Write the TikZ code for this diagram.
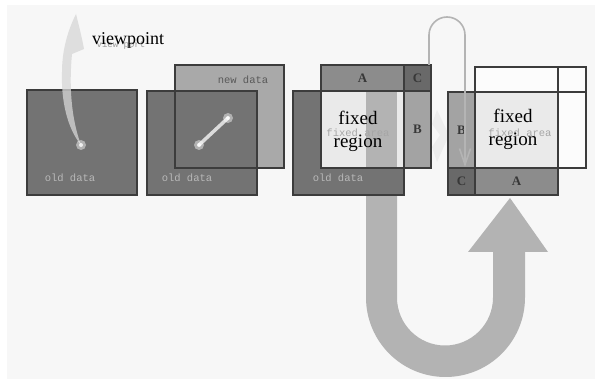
\documentclass[tikz,border=0pt]{standalone}
\usepackage{fontspec}
\setmainfont{Liberation Serif}
\setmonofont{Liberation Mono}
\usetikzlibrary{arrows.meta}
\definecolor{panel}{HTML}{F7F7F7}
\definecolor{olddark}{HTML}{737373}
\definecolor{newlight}{HTML}{A9A9A9}
\definecolor{edge}{HTML}{3C3C3C}
\definecolor{stripA}{HTML}{8C8C8C}
\definecolor{stripB}{HTML}{A3A3A3}
\definecolor{stripC}{HTML}{696969}
\definecolor{fixedc}{HTML}{EAEAEA}
\definecolor{ugray}{HTML}{B3B3B3}
\definecolor{loopc}{HTML}{B4B4B4}
\tikzset{
  blk/.style={rectangle, inner sep=0pt, outer sep=0pt, anchor=north west},
  olddatabox/.style={blk, fill=olddark},
  newdatabox/.style={blk, fill=newlight},
  outl/.style={draw=edge, line width=1.3pt},
  monolab/.style={font=\ttfamily\fontsize{10.5}{12}\selectfont, inner sep=0pt},
  oldlab/.style={monolab, text=black!28},
  letterlab/.style={font=\bfseries\fontsize{13}{14}\selectfont, text=black!78, inner sep=0pt},
  biglab/.style={font=\fontsize{19}{23}\selectfont, align=center, inner sep=0pt},
  faintlab/.style={monolab, text=black!35},
}
\begin{document}
\begin{tikzpicture}[x=1pt,y=-1pt]
\useasboundingbox (0,0) rectangle (595,379);
\fill[white] (0,0) rectangle (595,379);
\fill[panel] (7,5) rectangle (595,379);

% big U arrow (behind the boxes)
\fill[ugray] (366,100) -- (366,297.5) arc[start angle=180, end angle=0, radius=79.5]
  -- (525,252) -- (548,252) -- (510,198) -- (468,252) -- (493,252) -- (493,297.5)
  arc[start angle=0, end angle=180, radius=48] -- (397,100) -- cycle;

% faint arrow between groups 3 and 4
\fill[black!7] (432,124) -- (437,110) -- (449,135) -- (437,162) -- (432,147) -- (440,135) -- cycle;

% ---------- group 1 ----------
\node[olddatabox, minimum width=110pt, minimum height=105pt, outl] (old1) at (27,90) {};
\draw[edge, line width=2pt] (old1.south west) -- (old1.south east);
\node[oldlab] (old1lab) at (70,178) {old data};

% ---------- group 2 ----------
\node[newdatabox, minimum width=109pt, minimum height=103pt] (new2) at (175,65) {};
\node[olddatabox, minimum width=110pt, minimum height=104pt, outl] (old2) at (147,91) {};
\node[blk, minimum width=109pt, minimum height=103pt, outl] (new2o) at (175,65) {};
\draw[edge, line width=2pt] (old2.south west) -- (old2.south east);
\node[monolab, text=black!65] (new2lab) at (243,80) {new data};
\node[oldlab] (old2lab) at (187,178) {old data};
\coordinate (m2a) at (199,145);
\coordinate (m2b) at (228,118);
\draw[white, opacity=0.75, line width=3.5pt, line cap=round] (m2a) -- (m2b);
\fill[white, opacity=0.45] (m2a) circle (5);
\fill[white, opacity=0.45] (m2b) circle (5);
\fill[white, opacity=0.8] (m2a) circle (2);
\fill[white, opacity=0.8] (m2b) circle (2);

% ---------- group 3 ----------
\node[olddatabox, minimum width=111pt, minimum height=104pt] (old3) at (293,91) {};
\node[blk, fill=stripA, minimum width=83pt, minimum height=26pt] (A3) at (321,65) {};
\node[blk, fill=stripC, minimum width=27pt, minimum height=26pt] (C3) at (404,65) {};
\node[blk, fill=stripB, minimum width=27pt, minimum height=77pt] (B3) at (404,91) {};
\node[blk, fill=fixedc, minimum width=83pt, minimum height=77pt] (F3) at (321,91) {};
\fill[ugray] (366,91) rectangle (397,168);
\node[blk, minimum width=111pt, minimum height=104pt, outl] (old3o) at (293,91) {};
\node[blk, minimum width=110pt, minimum height=103pt, outl] (new3o) at (321,65) {};
\draw[outl] (C3.north west) -- (C3.south west) -- (C3.south east);
\draw[edge, line width=2pt] (old3o.south west) -- (old3o.south east);
\node[letterlab] (A3lab) at (A3.center) {A};
\node[letterlab] (C3lab) at (C3.center) {C};
\node[letterlab] (B3lab) at (B3.center) {B};
\node[faintlab] (F3small) at (358,133) {fixed area};
\node[biglab] (F3lab) at (358,131) {fixed\\region};
\node[oldlab] (old3lab) at (338,178) {old data};

% ---------- group 4 ----------
\node[blk, fill=white!60!panel, minimum width=111pt, minimum height=101pt] (new4) at (475,67) {};
\node[blk, fill=stripB, minimum width=27pt, minimum height=76pt] (B4) at (448,92) {};
\node[blk, fill=stripC, minimum width=27pt, minimum height=27pt] (C4) at (448,168) {};
\node[blk, fill=stripA, minimum width=83pt, minimum height=27pt] (A4) at (475,168) {};
\node[blk, fill=fixedc, minimum width=83pt, minimum height=76pt] (F4) at (475,92) {};
\node[blk, minimum width=111pt, minimum height=101pt, outl] (new4o) at (475,67) {};
\node[blk, minimum width=110pt, minimum height=103pt, outl] (old4o) at (448,92) {};
\draw[outl] (B4.north east) -- (C4.south east);
\draw[outl] (B4.south west) -- (A4.south east |- B4.south west);
\draw[outl] (F4.north east) -- (new4o.north east -| F4.north east);
\draw[outl] (F4.north east) -- (new4o.east |- F4.north east);
\draw[edge, line width=2pt] (old4o.south west) -- (old4o.south east);
\node[letterlab] (B4lab) at (B4.center) {B};
\node[letterlab] (C4lab) at (C4.center) {C};
\node[letterlab] (A4lab) at (A4.center) {A};
\node[faintlab] (F4small) at (520,133) {fixed area};
\node[biglab] (F4lab) at (513,129) {fixed\\region};

% loop connector from group 3 to group 4
\coordinate (loopstart) at (429,65);
\coordinate (loopend) at (465,167);
\draw[loopc, line width=1.6pt, -{Straight Barb[length=16pt, width=11pt, line width=1.6pt]}]
  (loopstart) -- (429,35) arc[start angle=180, end angle=360, radius=18] -- (loopend);

% ---------- viewpoint arrow ----------
\coordinate (m1) at (81,145);
\fill[black!16, opacity=0.75] (76,14) .. controls (79,26) and (82,38) .. (84,49)
  -- (72,54) .. controls (69,85) and (71,118) .. (m1)
  .. controls (67,128) and (61,100) .. (62,72)
  .. controls (62,50) and (68,30) .. (76,14) -- cycle;
\fill[white, opacity=0.45] (m1) circle (5);
\fill[white, opacity=0.8] (m1) circle (2);

\node[faintlab, font=\ttfamily\fontsize{9}{10}\selectfont, text=black!40] (vpfaint) at (121,45) {view port};
\node[font=\fontsize{18}{20}\selectfont, inner sep=0pt, anchor=base west] (vp) at (92,45) {viewpoint};
\end{tikzpicture}
\end{document}
